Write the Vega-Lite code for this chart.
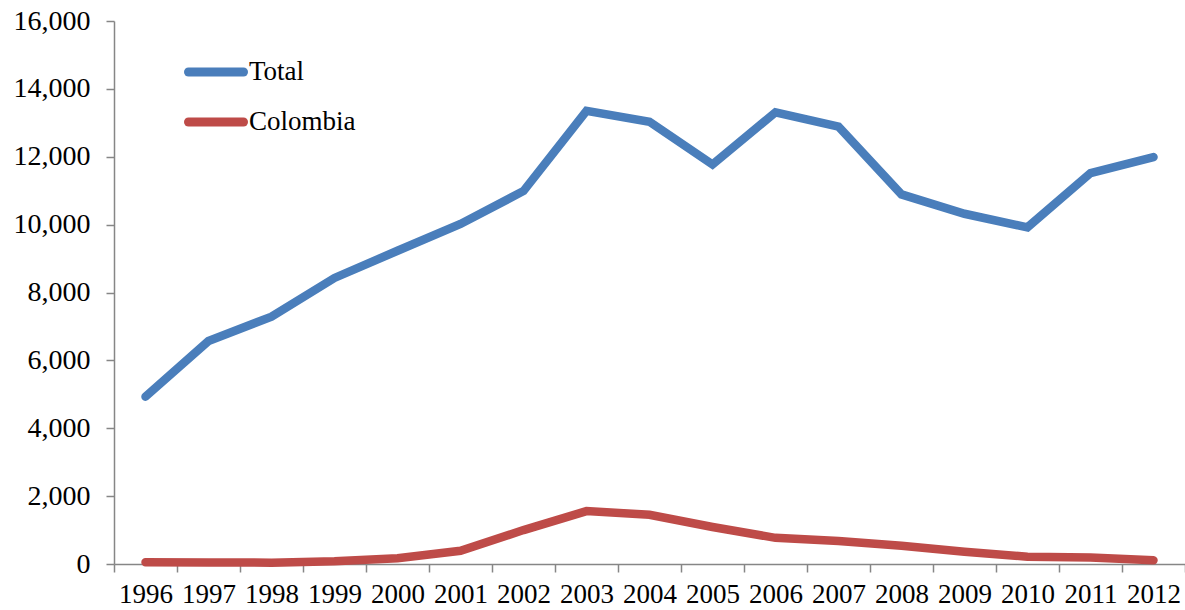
{
  "$schema": "https://vega.github.io/schema/vega-lite/v6.json",
  "width": 1071,
  "height": 543,
  "autosize": {"type": "none"},
  "padding": {"left": 114, "top": 21, "right": 0, "bottom": 46},
  "background": "white",
  "config": {
    "font": "Liberation Serif",
    "view": {"stroke": null}
  },
  "data": {
    "values": [
      {"year": 1996, "series": "Total", "value": 4930},
      {"year": 1997, "series": "Total", "value": 6570},
      {"year": 1998, "series": "Total", "value": 7290},
      {"year": 1999, "series": "Total", "value": 8430},
      {"year": 2000, "series": "Total", "value": 9230},
      {"year": 2001, "series": "Total", "value": 10020},
      {"year": 2002, "series": "Total", "value": 10990},
      {"year": 2003, "series": "Total", "value": 13350},
      {"year": 2004, "series": "Total", "value": 13030},
      {"year": 2005, "series": "Total", "value": 11770},
      {"year": 2006, "series": "Total", "value": 13310},
      {"year": 2007, "series": "Total", "value": 12890},
      {"year": 2008, "series": "Total", "value": 10890},
      {"year": 2009, "series": "Total", "value": 10320},
      {"year": 2010, "series": "Total", "value": 9920},
      {"year": 2011, "series": "Total", "value": 11520},
      {"year": 2012, "series": "Total", "value": 11990},
      {"year": 1996, "series": "Colombia", "value": 50},
      {"year": 1997, "series": "Colombia", "value": 45},
      {"year": 1998, "series": "Colombia", "value": 40},
      {"year": 1999, "series": "Colombia", "value": 80},
      {"year": 2000, "series": "Colombia", "value": 170},
      {"year": 2001, "series": "Colombia", "value": 390},
      {"year": 2002, "series": "Colombia", "value": 1000},
      {"year": 2003, "series": "Colombia", "value": 1560},
      {"year": 2004, "series": "Colombia", "value": 1450},
      {"year": 2005, "series": "Colombia", "value": 1090},
      {"year": 2006, "series": "Colombia", "value": 770},
      {"year": 2007, "series": "Colombia", "value": 680},
      {"year": 2008, "series": "Colombia", "value": 540},
      {"year": 2009, "series": "Colombia", "value": 360},
      {"year": 2010, "series": "Colombia", "value": 215},
      {"year": 2011, "series": "Colombia", "value": 195},
      {"year": 2012, "series": "Colombia", "value": 110}
    ]
  },
  "mark": {"type": "line", "strokeWidth": 8.5, "strokeCap": "round", "strokeJoin": "miter"},
  "encoding": {
    "x": {
      "field": "year",
      "type": "quantitative",
      "scale": {"domain": [1995.5, 2012.5], "nice": false, "zero": false},
      "axis": {
        "title": null,
        "grid": false,
        "values": [1995.5, 1996, 1996.5, 1997, 1997.5, 1998, 1998.5, 1999, 1999.5, 2000, 2000.5, 2001, 2001.5, 2002, 2002.5, 2003, 2003.5, 2004, 2004.5, 2005, 2005.5, 2006, 2006.5, 2007, 2007.5, 2008, 2008.5, 2009, 2009.5, 2010, 2010.5, 2011, 2011.5, 2012, 2012.5],
        "labelExpr": "datum.value % 1 == 0 ? format(datum.value, 'd') : ''",
        "labelOverlap": false,
        "labelFlush": false,
        "labelFontSize": 27,
        "labelColor": "black",
        "labelPadding": 9,
        "tickOpacity": {"condition": {"test": "datum.value % 1 != 0", "value": 1}, "value": 0},
        "tickSize": 8,
        "tickColor": "#868686",
        "tickWidth": 1.5,
        "domainColor": "#868686",
        "domainWidth": 1.5
      }
    },
    "y": {
      "field": "value",
      "type": "quantitative",
      "scale": {"domain": [0, 16000], "nice": false},
      "axis": {
        "title": null,
        "grid": false,
        "values": [0, 2000, 4000, 6000, 8000, 10000, 12000, 14000, 16000],
        "format": ",.0f",
        "labelFontSize": 28,
        "labelColor": "black",
        "labelPadding": 16,
        "tickSize": 8,
        "tickColor": "#868686",
        "tickWidth": 1.5,
        "domainColor": "#868686",
        "domainWidth": 1.5
      }
    },
    "color": {
      "field": "series",
      "type": "nominal",
      "scale": {"domain": ["Total", "Colombia"], "range": ["#4A7EBB", "#BE4B48"]},
      "legend": {
        "title": null,
        "orient": "none",
        "legendX": 70,
        "legendY": 19,
        "symbolType": "stroke",
        "symbolSize": 3025,
        "symbolStrokeWidth": 9,
        "labelFontSize": 27,
        "labelColor": "black",
        "labelOffset": 1,
        "rowPadding": -8,
        "padding": 0,
        "encode": {"symbols": {"update": {"strokeCap": {"value": "round"}}}}
      }
    }
  }
}
